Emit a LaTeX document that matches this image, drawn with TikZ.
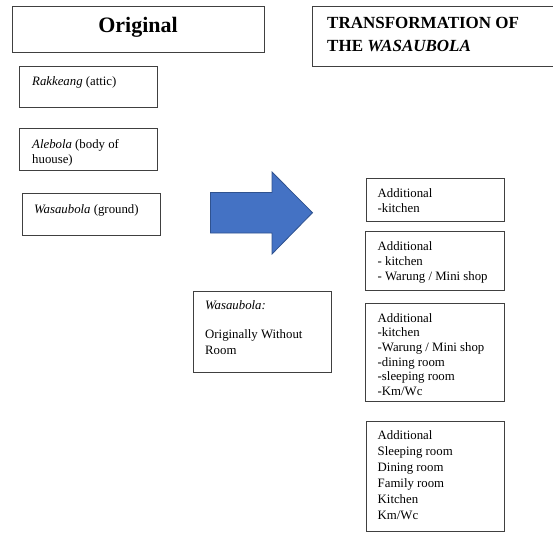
\documentclass[tikz,border=0pt]{standalone}
\usepackage{fontspec}
\setmainfont{Liberation Serif}
\definecolor{arrowfill}{HTML}{4472C4}
\definecolor{arrowline}{HTML}{2F528F}
\definecolor{boxline}{HTML}{404040}
\newcommand{\mylines}[1]{\vtop{\halign{##\hfil\cr#1\crcr}}}
\begin{document}
\begin{tikzpicture}[x=1pt,y=-1pt,
  box/.style={draw=boxline, line width=0.8pt, inner sep=0pt, anchor=north west},
  txt/.style={inner sep=0pt, anchor=base west, font=\fontsize{12.8}{15}\selectfont},
  txtwide/.style={txt, font=\fontsize{12.8}{16}\selectfont},
  bigarrow/.style={fill=arrowfill, draw=arrowline, line width=0.8pt, line join=miter}]
\useasboundingbox (0,0) rectangle (553,532);
% headers
\node[box, minimum width=252pt, minimum height=46pt] (orig) at (12,6) {};
\node[inner sep=0pt, anchor=base, font=\bfseries\fontsize{22}{26}\selectfont] (origt) at (138,33) {Original};
\node[box, minimum width=241pt, minimum height=60pt] (trans) at (312,6) {};
\node[txt, font=\bfseries\fontsize{17}{23.4}\selectfont] (transt) at (327,28.5)
  {\mylines{TRANSFORMATION OF\cr THE \textit{WASAUBOLA}}};
% left boxes
\node[box, minimum width=138pt, minimum height=41pt] (rak) at (19,66) {};
\node[txt] (rakt) at (32,85.5) {\textit{Rakkeang} (attic)};
\node[box, minimum width=138pt, minimum height=42pt] (ale) at (19,128) {};
\node[txt] (alet) at (32,148.3) {\mylines{\textit{Alebola} (body of\cr huouse)}};
\node[box, minimum width=138pt, minimum height=42pt] (wasg) at (22,193) {};
\node[txt] (wasgt) at (34,213.3) {\textit{Wasaubola} (ground)};
% arrow
\filldraw[bigarrow] (210.5,192.5) coordinate (a1) -- (272,192.5) -- (272,172) -- (312.5,212.7) coordinate (tip)
  -- (272,254) -- (272,233) -- (210.5,233) -- cycle;
% middle box
\node[box, minimum width=138pt, minimum height=80.5pt] (was) at (193,291) {};
\node[txt] (wast) at (205,309) {\textit{Wasaubola:}};
\node[txt, font=\fontsize{12.8}{15.7}\selectfont] (wast2) at (205,338.3) {\mylines{Originally Without\cr Room}};
% right boxes
\node[box, minimum width=138pt, minimum height=42.5pt] (b1) at (366,178.3) {};
\node[txt] (b1t) at (377.5,197.7) {\mylines{Additional\cr -kitchen}};
\node[box, minimum width=139pt, minimum height=59.5pt] (b2) at (365,230.7) {};
\node[txt] (b2t) at (377.5,250) {\mylines{Additional\cr - kitchen\cr - Warung / Mini shop}};
\node[box, minimum width=139pt, minimum height=98pt] (b3) at (365,303.3) {};
\node[txt, font=\fontsize{12.8}{14.6}\selectfont] (b3t) at (377.5,322.3) {\mylines{Additional\cr -kitchen\cr -Warung / Mini shop\cr -dining room\cr -sleeping room\cr -Km/Wc}};
\node[box, minimum width=138pt, minimum height=110pt] (b4) at (366,420.7) {};
\node[txtwide] (b4t) at (377.5,439) {\mylines{Additional\cr Sleeping room\cr Dining room\cr Family room\cr Kitchen\cr Km/Wc}};
\end{tikzpicture}
\end{document}
